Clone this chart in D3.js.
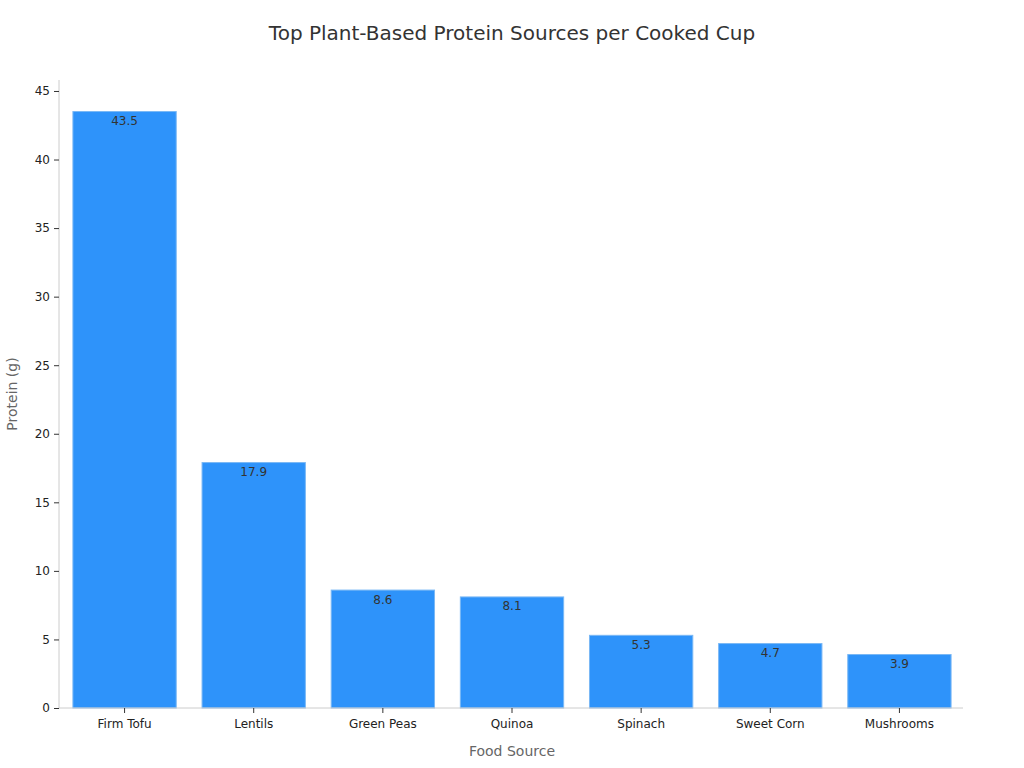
<!DOCTYPE html>
<html><head><meta charset="utf-8">
<script src="https://cdn.jsdelivr.net/npm/d3@7"></script>
<style>body{margin:0;background:#fff;font-family:"DejaVu Sans",sans-serif;}</style>
</head><body><svg id="c" width="1024" height="768"></svg>
<script>
const categories = ["Firm Tofu","Lentils","Green Peas","Quinoa","Spinach","Sweet Corn","Mushrooms"];
const protein = [43.5,17.9,8.6,8.1,5.3,4.7,3.9];
const yTicks = [0,5,10,15,20,25,30,35,40,45];

const svg = d3.select("#c");
const m = {l:59, r:963, t:80, b:708};
const x = d3.scaleBand().domain(categories).range([m.l+1, m.r+1]).paddingInner(0.2).paddingOuter(0.1);
const y = d3.scaleLinear().domain([0, 45.8]).range([m.b, m.t]);

svg.append("text").attr("x",512).attr("y",40).attr("text-anchor","middle")
  .attr("font-size",20).attr("fill","#333").text("Top Plant-Based Protein Sources per Cooked Cup");

svg.selectAll("rect.bar").data(protein).join("rect").attr("class","bar")
  .attr("x",(d,i)=>x(categories[i])).attr("width",x.bandwidth())
  .attr("y",d=>y(d)).attr("height",d=>y(0)-y(d))
  .attr("fill","#2E93FA").attr("stroke","#7ab8f5").attr("stroke-width",1);

svg.selectAll("text.val").data(protein).join("text").attr("class","val")
  .attr("x",(d,i)=>x(categories[i])+x.bandwidth()/2).attr("y",d=>y(d)+13.5)
  .attr("text-anchor","middle").attr("font-size",12).attr("fill","#333").text(d=>d);

const ya = svg.append("g").attr("transform",`translate(${m.l},0)`)
  .call(d3.axisLeft(y).tickValues(yTicks).tickSize(5).tickPadding(4));
const xa = svg.append("g").attr("transform",`translate(0,${m.b})`)
  .call(d3.axisBottom(x).tickSize(5).tickSizeOuter(0).tickPadding(4));
[ya,xa].forEach(a=>{
  a.select(".domain").attr("stroke","#ccc");
  a.selectAll(".tick line").attr("stroke","#333");
  a.selectAll(".tick text").attr("fill","#222").attr("font-size",12).attr("font-family","DejaVu Sans");
});
ya.select(".domain").attr("d",`M0,${m.t}V${m.b}`);
xa.select(".domain").attr("d",`M${m.l},0H${m.r}`);
xa.selectAll(".tick text").attr("dy","0.95em");

svg.append("text").attr("x",512).attr("y",756).attr("text-anchor","middle")
  .attr("font-size",14).attr("fill","#666").text("Food Source");
svg.append("text").attr("transform","translate(17,394) rotate(-90)").attr("text-anchor","middle")
  .attr("font-size",14).attr("fill","#666").text("Protein (g)");
</script></body></html>
